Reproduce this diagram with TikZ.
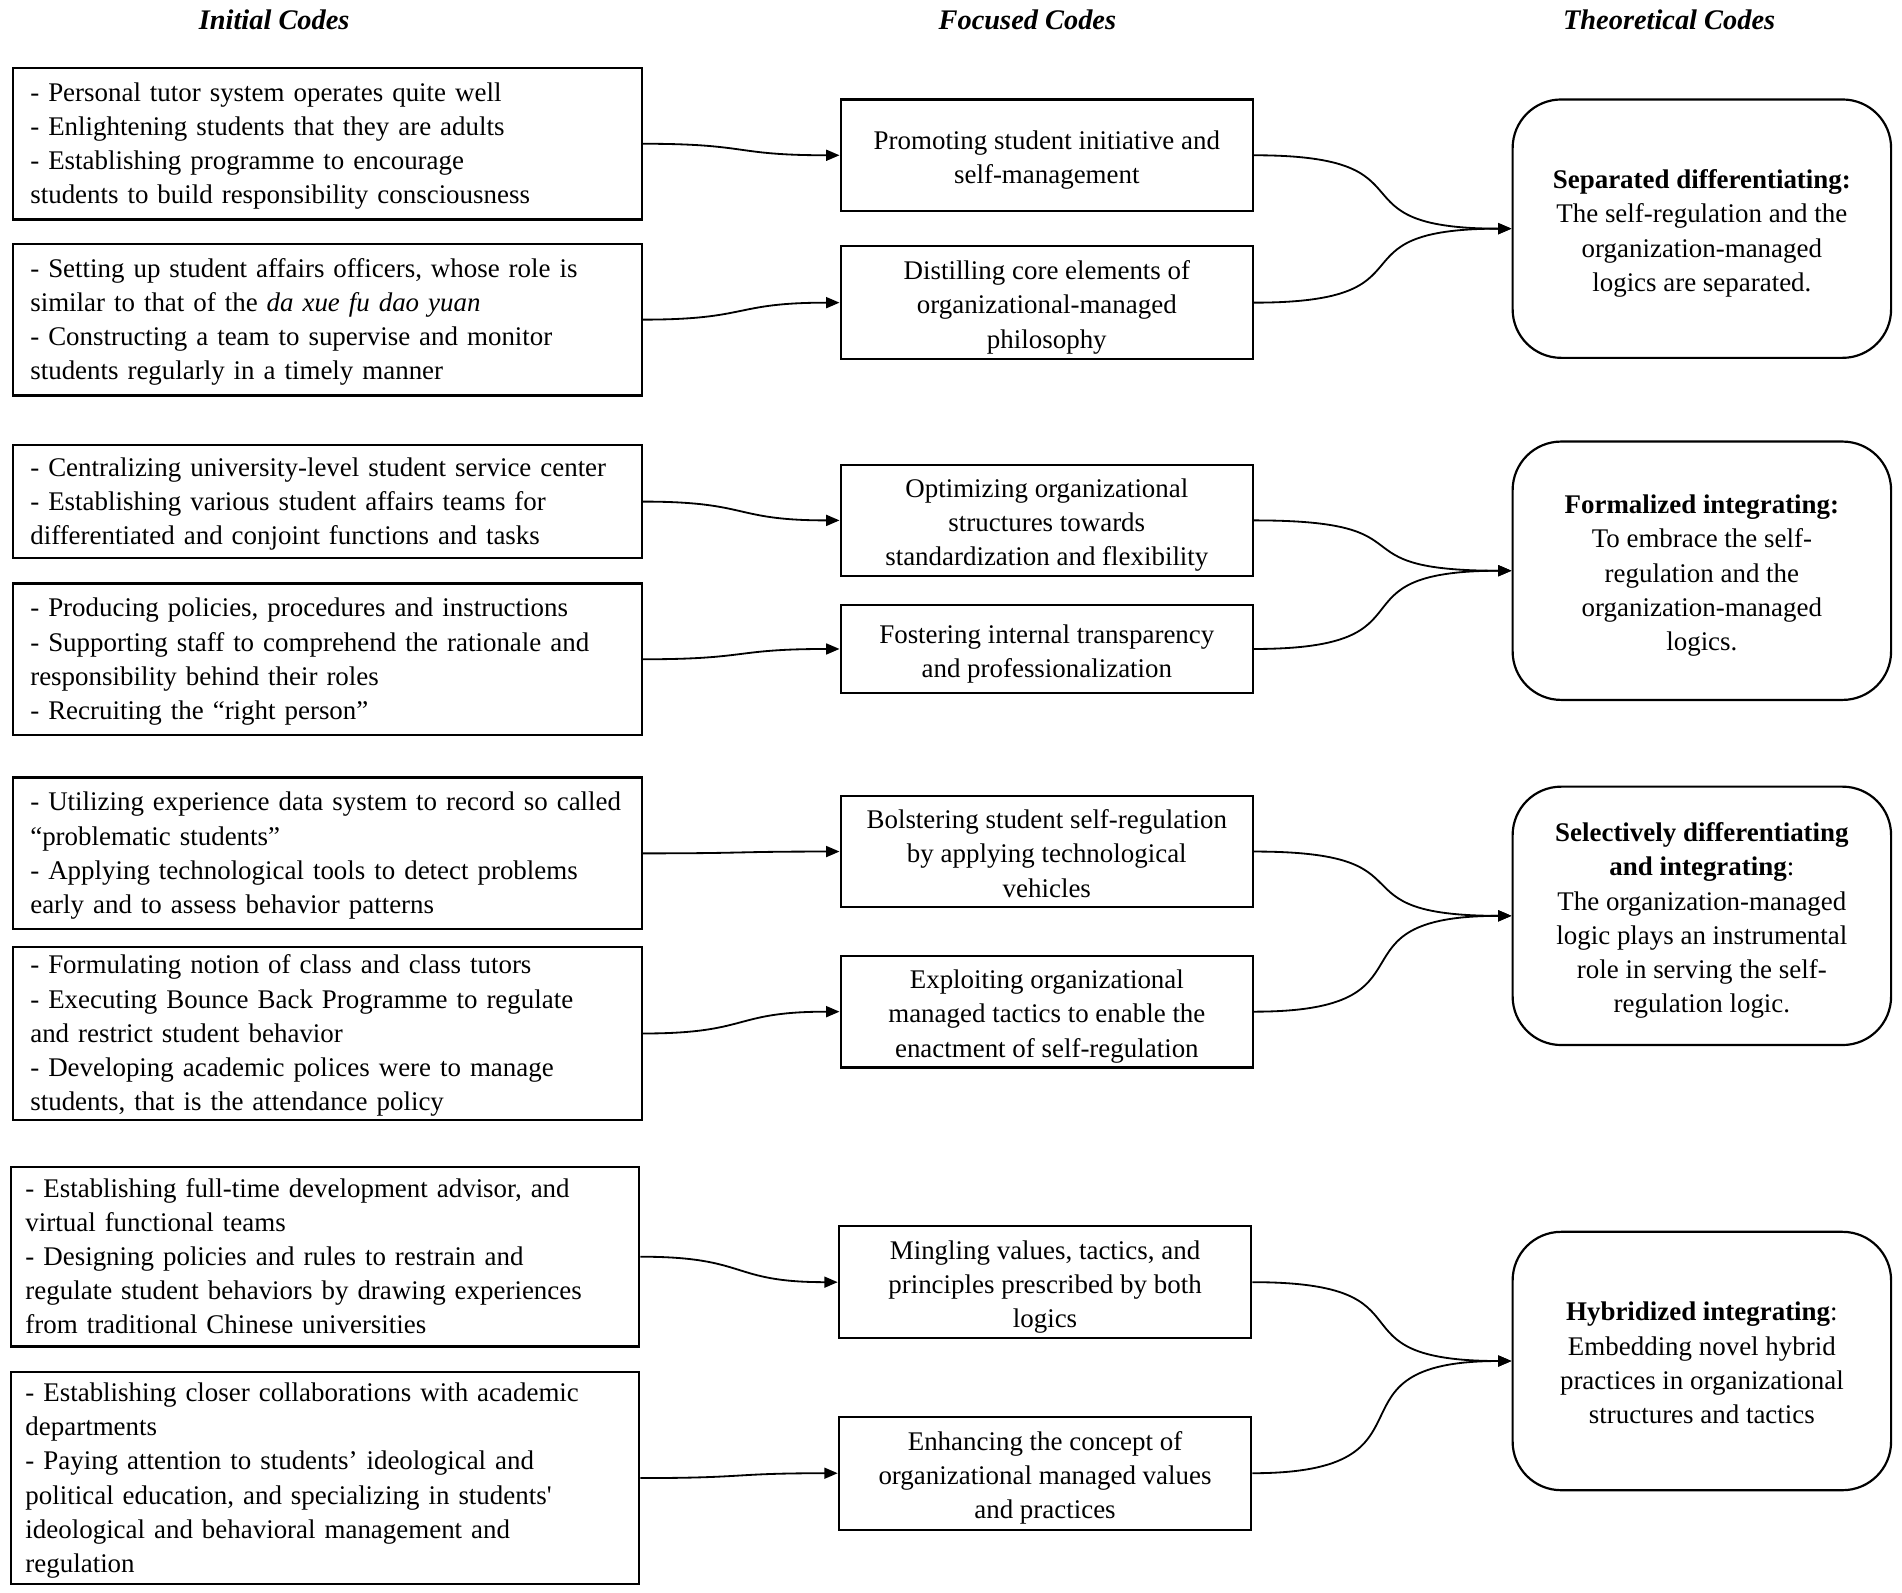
\documentclass[tikz,border=0pt]{standalone}
\usepackage{fontspec}
\setmainfont{Liberation Serif}
\usetikzlibrary{arrows.meta}
\newcommand\Ln[1]{\mbox{#1}}
\newcommand\Tl{\rule{0pt}{9.9pt}}
\newcommand\Ts{\rule{0pt}{11.9pt}}
\newcommand\Bs{\rule[-2.6pt]{0pt}{2.6pt}}
\begin{document}
\begin{tikzpicture}[x=0.5pt,y=-0.5pt,
  every node/.style={font=\fontsize{11.1pt}{14.1pt}\selectfont},
  head/.style={font=\fontsize{11.7pt}{14pt}\selectfont\bfseries\itshape},
  lbox/.style={draw, line width=0.9pt, align=left, text width=245pt, inner xsep=7pt, inner ysep=0pt, minimum width=259pt},
  mbox/.style={draw, line width=0.9pt, align=center, inner sep=0pt, minimum width=170pt},
  rbox/.style={draw, line width=0.9pt, align=center, inner sep=0pt, minimum width=156pt, minimum height=106.5pt, rounded corners=20pt},
  conn/.style={line width=0.75pt, -{Triangle[length=5.5pt,width=4.5pt]}}
]
\useasboundingbox (0,0) rectangle (1568,1313.2);

% headers
\node[head] (h1) at (226,16) {Initial Codes};
\node[head] (h2) at (847,16) {Focused Codes};
\node[head] (h3) at (1376,16) {Theoretical Codes};

% left boxes
\node[lbox, minimum height=62.5pt] (L1) at (270,118.5) {\Ln{\Tl- Personal tutor system operates quite well}\\\Ln{- Enlightening students that they are adults}\\\Ln{- Establishing programme to encourage}\\\Ln{students to build responsibility consciousness\Bs}};
\node[lbox, minimum height=62.5pt] (L2) at (270,263.5) {\Ln{\Tl- Setting up student affairs officers, whose role is}\\\Ln{similar to that of the \textit{da xue fu dao yuan}}\\\Ln{- Constructing a team to supervise and monitor}\\\Ln{students regularly in a timely manner\Bs}};
\node[lbox, minimum height=46.5pt] (L3) at (270,413.5) {\Ln{\Tl- Centralizing university-level student service center}\\\Ln{- Establishing various student affairs teams for}\\\Ln{differentiated and conjoint functions and tasks\Bs}};
\node[lbox, minimum height=62.5pt] (L4) at (270,543.5) {\Ln{\Tl- Producing policies, procedures and instructions}\\\Ln{- Supporting staff to comprehend the rationale and}\\\Ln{responsibility behind their roles}\\\Ln{- Recruiting the “right person”\Bs}};
\node[lbox, minimum height=62.5pt] (L5) at (270,703.5) {\Ln{\Tl- Utilizing experience data system to record so called}\\\Ln{“problematic students”}\\\Ln{- Applying technological tools to detect problems}\\\Ln{early and to assess behavior patterns\Bs}};
\node[lbox, minimum height=71pt] (L6) at (270,852) {\Ln{\Tl- Formulating notion of class and class tutors}\\\Ln{- Executing Bounce Back Programme to regulate}\\\Ln{and restrict student behavior}\\\Ln{- Developing academic polices were to manage}\\\Ln{students, that is the attendance policy\Bs}};
\node[lbox, minimum height=74pt, inner xsep=6pt, text width=247pt] (L7) at (268,1036) {\Ln{\Tl- Establishing full-time development advisor, and}\\\Ln{virtual functional teams}\\\Ln{- Designing policies and rules to restrain and}\\\Ln{regulate student behaviors by drawing experiences}\\\Ln{from traditional Chinese universities\Bs}};
\node[lbox, minimum height=87.5pt, inner xsep=6pt, text width=247pt] (L8) at (268,1218.5) {\Ln{\Tl- Establishing closer collaborations with academic}\\\Ln{departments}\\\Ln{- Paying attention to students’ ideological and}\\\Ln{political education, and specializing in students\textquotesingle}\\\Ln{ideological and behavioral management and}\\\Ln{regulation\Bs}};

% middle boxes
\node[mbox, minimum height=46pt] (M1) at (863,128) {\Ts Promoting student initiative and\\self-management\Bs};
\node[mbox, minimum height=46.5pt] (M2) at (863,249.5) {\Ts Distilling core elements of\\organizational-managed\\philosophy\Bs};
\node[mbox, minimum height=46pt] (M3) at (863,429) {\Ts Optimizing organizational\\structures towards\\standardization and flexibility\Bs};
\node[mbox, minimum height=36pt] (M4) at (863,535) {\Ts Fostering internal transparency\\and professionalization\Bs};
\node[mbox, minimum height=46pt] (M5) at (863,702) {\Ts Bolstering student self-regulation\\by applying technological\\vehicles\Bs};
\node[mbox, minimum height=46pt] (M6) at (863,834) {\Ts Exploiting organizational\\managed tactics to enable the\\enactment of self-regulation\Bs};
\node[mbox, minimum height=46pt] (M7) at (861.5,1057) {\Ts Mingling values, tactics, and\\principles prescribed by both\\logics\Bs};
\node[mbox, minimum height=46.5pt] (M8) at (861.5,1214.5) {\Ts Enhancing the concept of\\organizational managed values\\and practices\Bs};

% right boxes
\node[rbox] (R1) at (1403,188.5) {\Ts\textbf{Separated differentiating:}\\The self-regulation and the\\organization-managed\\logics are separated.\Bs};
\node[rbox] (R2) at (1403,470.5) {\Ts\textbf{Formalized integrating:}\\To embrace the self-\\regulation and the\\organization-managed\\logics.\Bs};
\node[rbox] (R3) at (1403,755) {\Ts\textbf{Selectively differentiating}\\\textbf{and integrating}:\\The organization-managed\\logic plays an instrumental\\role in serving the self-\\regulation logic.\Bs};
\node[rbox] (R4) at (1403,1122) {\Ts\textbf{Hybridized integrating}:\\Embedding novel hybrid\\practices in organizational\\structures and tactics\Bs};

% connectors left -> middle
\foreach \i in {1,...,8}{
  \draw[conn] (L\i.east) to[out=0,in=180,looseness=1.4] (M\i.west);
}
% connectors middle -> right
\draw[conn] (M1.east) to[out=0,in=180,looseness=1.8] (R1.west);
\draw[conn] (M2.east) to[out=0,in=180,looseness=1.8] (R1.west);
\draw[conn] (M3.east) to[out=0,in=180,looseness=1.8] (R2.west);
\draw[conn] (M4.east) to[out=0,in=180,looseness=1.8] (R2.west);
\draw[conn] (M5.east) to[out=0,in=180,looseness=1.8] (R3.west);
\draw[conn] (M6.east) to[out=0,in=180,looseness=1.8] (R3.west);
\draw[conn] (M7.east) to[out=0,in=180,looseness=1.8] (R4.west);
\draw[conn] (M8.east) to[out=0,in=180,looseness=1.8] (R4.west);
\end{tikzpicture}
\end{document}
